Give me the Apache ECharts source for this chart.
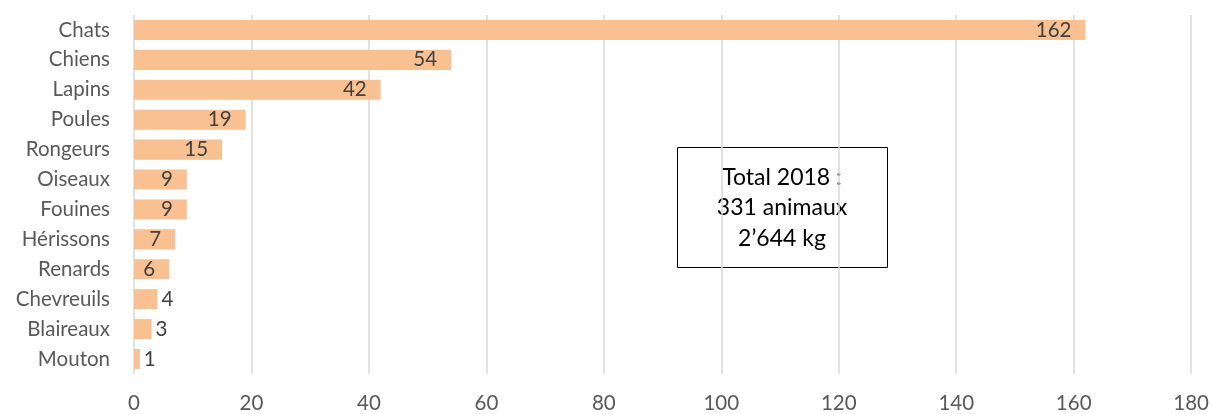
<!DOCTYPE html>
<html><head><meta charset="utf-8">
<script src="https://cdn.jsdelivr.net/npm/echarts@6/dist/echarts.min.js"></script>
<style>html,body{margin:0;padding:0;background:#fff}#c{width:1212px;height:414px}</style>
</head><body><div id="c"></div>
<script>
const categories = ['Chats','Chiens','Lapins','Poules','Rongeurs','Oiseaux','Fouines','Hérissons','Renards','Chevreuils','Blaireaux','Mouton'];
const values = [162,54,42,19,15,9,9,7,6,4,3,1];
const boxLines = ['Total 2018 :','331 animaux','2’644 kg'];
const FONT = 'Lato, "Open Sans", sans-serif';
const chart = echarts.init(document.getElementById('c'));
chart.setOption({
  animation:false,
  grid:{left:134,right:20,top:15,bottom:39,containLabel:false},
  xAxis:{type:'value',min:0,max:180,interval:20,
    axisLine:{show:false},axisTick:{show:false},
    axisLabel:{color:'#595959',fontSize:20.5,fontFamily:FONT,margin:19},
    splitLine:{lineStyle:{color:'#d9d9d9',width:1.5}}},
  yAxis:{type:'category',data:categories,inverse:true,
    axisLine:{show:false},axisTick:{show:false},
    axisLabel:{color:'#595959',fontSize:20.5,fontFamily:FONT,margin:24}},
  series:[{type:'bar',barCategoryGap:'33%',
    itemStyle:{color:'#F9C191'},
    data:values.map(v=>({value:v,label:v<6?{position:'right',distance:4}:{position:'insideRight',distance:14}})),
    label:{show:true,color:'#404040',fontSize:20.5,fontFamily:FONT}}],
  graphic:[
    {type:'rect',shape:{x:677.5,y:147.5,width:210,height:120},style:{fill:'#fff',stroke:'#000',lineWidth:1}},
    {type:'text',x:782,y:208,style:{text:boxLines.join('\n'),fill:'#000',font:'23px '+FONT,lineHeight:30.5,textAlign:'center',textVerticalAlign:'middle'}}
  ]
});
</script></body></html>
